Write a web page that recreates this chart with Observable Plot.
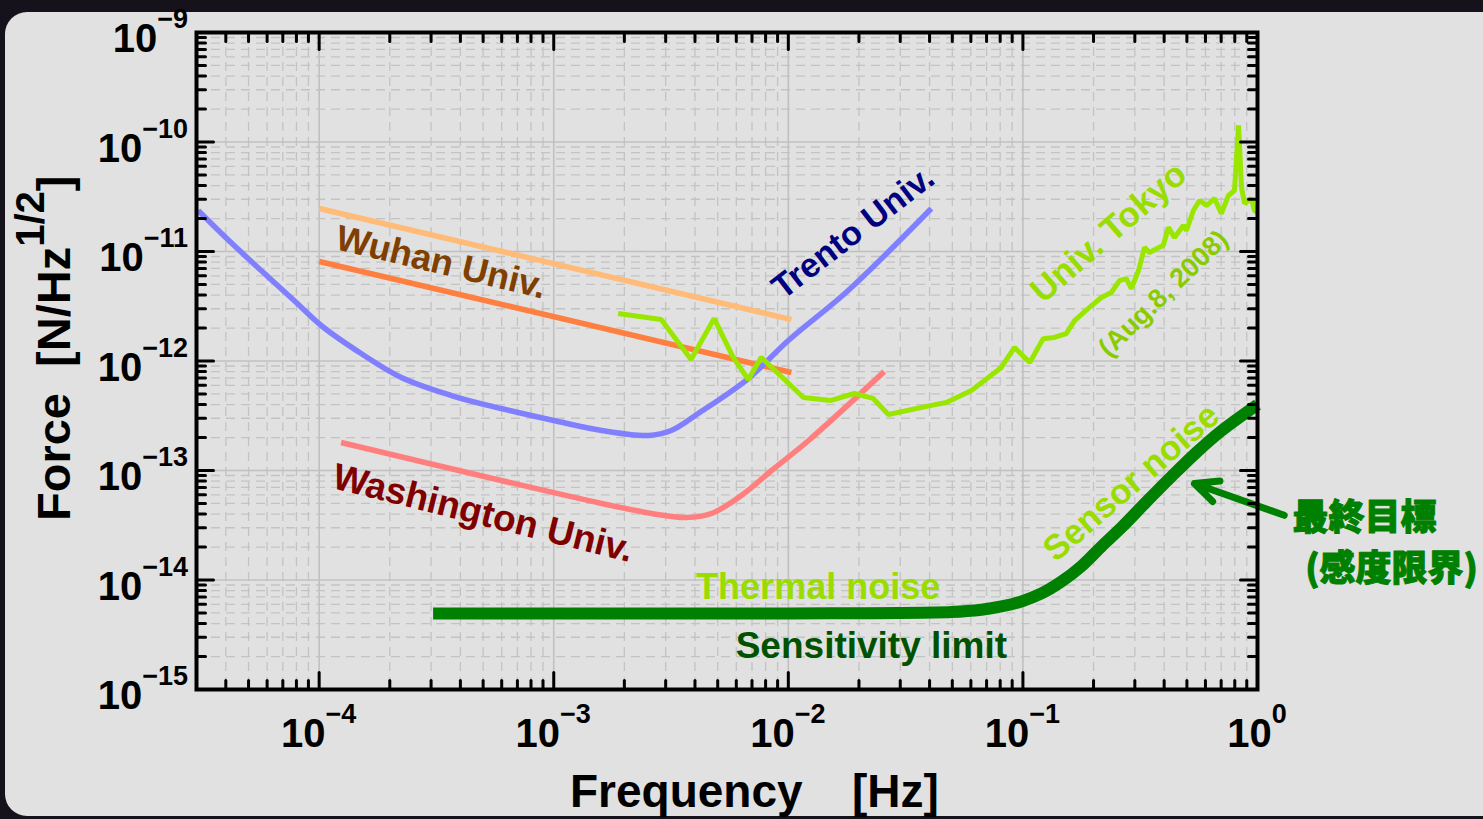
<!DOCTYPE html>
<html><head><meta charset="utf-8">
<script src="https://cdn.jsdelivr.net/npm/d3@7"></script>
<script src="https://cdn.jsdelivr.net/npm/@observablehq/plot@0.6"></script>
<style>
html,body{margin:0;padding:0;background:#15121b;width:1483px;height:819px;overflow:hidden;}
#panel{position:absolute;left:5px;top:12px;width:1500px;height:804px;border-radius:22px;background:#e1e1e1;}
#chart{position:absolute;left:0;top:0;}
</style></head><body><div id="panel"></div><div id="chart"></div>
<script>
// ---- data (frequency [Hz], force noise [N/Hz^1/2]) ----
const trentoF = [3.05e-5, 4.22e-5, 5.66e-5, 7.82e-5, 1.02e-4, 1.51e-4, 2.24e-4, 3.66e-4, 5.97e-4, 1.0e-3, 1.6e-3, 2.53e-3, 3.17e-3, 4.13e-3, 6.75e-3, 1.0e-2, 1.8e-2, 4.07e-2];
const trentoV = [2.37e-11, 1.2e-11, 6.7e-12, 3.57e-12, 2.11e-12, 1.17e-12, 7.07e-13, 4.84e-13, 3.68e-13, 2.86e-13, 2.32e-13, 2.09e-13, 2.32e-13, 3.32e-13, 6.92e-13, 1.54e-12, 4.41e-12, 2.47e-11];

const wuhanUpperF = [1.0e-4, 1.03e-2];
const wuhanUpperV = [2.47e-11, 2.39e-12];
const wuhanLowerF = [1.0e-4, 1.03e-2];
const wuhanLowerV = [8.1e-12, 7.85e-13];

const washingtonF = [1.24e-4, 5.97e-4, 1.6e-3, 2.61e-3, 3.67e-3, 4.7e-3, 6.31e-3, 8.48e-3, 1.22e-2, 2.56e-2];
const washingtonV = [1.8e-13, 8.1e-14, 5.0e-14, 4.05e-14, 3.72e-14, 4.05e-14, 5.91e-14, 1.0e-13, 1.88e-13, 8.0e-13];

const tokyoF = [1.88e-3, 2.87e-3, 3.85e-3, 4.83e-3, 5.82e-3, 6.75e-3, 7.67e-3, 9.33e-3, 1.16e-2, 1.52e-2, 1.91e-2, 2.30e-2, 2.67e-2, 4.07e-2, 4.72e-2, 6.03e-2, 8.09e-2, 9.21e-2, 0.107, 0.122, 0.136, 0.153, 0.166, 0.190, 0.216, 0.238, 0.258, 0.276, 0.290, 0.311, 0.330, 0.346, 0.397, 0.417, 0.443, 0.483, 0.498, 0.533, 0.566, 0.607, 0.656, 0.701, 0.752, 0.798, 0.830, 0.855, 0.881, 0.942, 0.970, 1.0];
const tokyoV = [2.72e-12, 2.39e-12, 1.03e-12, 2.44e-12, 1.08e-12, 6.78e-13, 1.08e-12, 7.22e-13, 4.64e-13, 4.36e-13, 5.05e-13, 4.55e-13, 3.25e-13, 3.93e-13, 4.18e-13, 5.38e-13, 8.73e-13, 1.33e-12, 9.68e-13, 1.60e-12, 1.64e-12, 1.78e-12, 2.34e-12, 3.02e-12, 3.80e-12, 4.22e-12, 5.43e-12, 5.66e-12, 4.59e-12, 6.70e-12, 1.09e-11, 9.8e-12, 1.14e-11, 1.66e-11, 1.34e-11, 1.73e-11, 1.56e-11, 2.37e-11, 2.92e-11, 2.63e-11, 3.05e-11, 2.22e-11, 3.25e-11, 3.61e-11, 1.42e-10, 3.84e-11, 2.74e-11, 3.05e-11, 2.37e-11, 2.27e-11];

const limitF = [3.06e-4, 1e-3, 1e-2, 4.95e-2, 6.65e-2, 8.09e-2, 9.86e-2, 0.12, 0.146, 0.177, 0.216, 0.263, 0.337, 0.43, 0.549, 0.701, 1.0];
const limitV = [4.95e-15, 4.95e-15, 4.95e-15, 5.1e-15, 5.35e-15, 5.73e-15, 6.37e-15, 7.53e-15, 9.68e-15, 1.33e-14, 2.02e-14, 3.01e-14, 5.21e-14, 8.81e-14, 1.46e-13, 2.3e-13, 4.0e-13];

// arrow pointing at the sensor-noise curve (tail -> head)
const arrowF = [1.30, 0.538];
const arrowV = [3.9e-14, 7.6e-14];

// ticks
const xMajor = [1e-4, 1e-3, 1e-2, 1e-1, 1];
const xTickExp = ["\u22124", "\u22123", "\u22122", "\u22121", "0"];
const yMajor = [1e-15, 1e-14, 1e-13, 1e-12, 1e-11, 1e-10, 1e-9];
const yTickExp = ["\u221215", "\u221214", "\u221213", "\u221212", "\u221211", "\u221210", "\u22129"];

// labels
const txtTrento = "Trento Univ.";
const txtWuhan = "Wuhan Univ.";
const txtWashington = "Washington Univ.";
const txtTokyo = "Univ. Tokyo";
const txtTokyoDate = "(Aug.8, 2008)";
const txtSensor = "Sensor noise";
const txtThermal = "Thermal noise";
const txtLimit = "Sensitivity limit";
const txtGoal1 = "最終目標";
const txtGoal2 = "(感度限界)";
const xTitle1 = "Frequency", xTitle2 = "[Hz]";
const yTitleMain = "Force  [N/Hz", yTitleSup = "1/2", yTitleEnd = "]";

// ---- build ----
const X0 = 3e-5, X1 = 1, Y0 = 1e-15, Y1 = 1e-9;
const zip = (F, V) => F.map((f, i) => ({f, v: V[i]}));
function minorTicks(lo, hi) {
  const out = [];
  for (let e = Math.floor(Math.log10(lo)); e < Math.ceil(Math.log10(hi)); e++)
    for (let k = 2; k <= 9; k++) { const t = k * Math.pow(10, e); if (t >= lo * 0.999 && t <= hi * 1.001) out.push(t); }
  return out;
}
const xMinor = minorTicks(X0, X1);
const yMinor = minorTicks(Y0, Y1);
const seg = {draw(ctx, l) { ctx.moveTo(0, 0); ctx.lineTo(0, -l); }};
const FONT = "Liberation Sans, Arial, Helvetica, sans-serif";
const tickMark = (data, isX, pos, len, rot) => Plot.vector(data, {
  x: isX ? (d => d) : (() => pos), y: isX ? (() => pos) : (d => d),
  length: len, rotate: rot, anchor: "start", shape: seg, stroke: "black", strokeWidth: 3
});

const plot = Plot.plot({
  width: 1483, height: 819,
  marginLeft: 196, marginRight: 226, marginTop: 32, marginBottom: 130,
  style: {background: "transparent", overflow: "visible"},
  x: {type: "log", domain: [X0, X1], axis: null},
  y: {type: "log", domain: [Y0, Y1], axis: null},
  marks: [
    Plot.ruleX(xMinor, {stroke: "#c3c3c3", strokeWidth: 1.3, strokeDasharray: "9,6"}),
    Plot.ruleY(yMinor, {stroke: "#c3c3c3", strokeWidth: 1.3, strokeDasharray: "9,6"}),
    Plot.ruleX(xMajor, {stroke: "#c0c0c0", strokeWidth: 1.6}),
    Plot.ruleY(yMajor, {stroke: "#c0c0c0", strokeWidth: 1.6}),
    Plot.line(zip(wuhanUpperF, wuhanUpperV), {x: "f", y: "v", stroke: "#ffbb77", strokeWidth: 5.5, strokeLinecap: "butt"}),
    Plot.line(zip(wuhanLowerF, wuhanLowerV), {x: "f", y: "v", stroke: "#ff7f40", strokeWidth: 5.5, strokeLinecap: "butt"}),
    Plot.line(zip(washingtonF, washingtonV), {x: "f", y: "v", stroke: "#ff7f7f", strokeWidth: 5.5, curve: "catmull-rom", strokeLinecap: "butt"}),
    Plot.line(zip(trentoF, trentoV), {x: "f", y: "v", stroke: "#8080ff", strokeWidth: 5.5, curve: "catmull-rom", strokeLinecap: "butt"}),
    Plot.line(zip(tokyoF, tokyoV), {x: "f", y: "v", stroke: "#99e600", strokeWidth: 5, strokeLinejoin: "miter", strokeLinecap: "butt"}),
    Plot.line(zip(limitF, limitV), {x: "f", y: "v", stroke: "#008000", strokeWidth: 12, curve: "catmull-rom", strokeLinecap: "butt"}),
    Plot.arrow([0], {x1: () => arrowF[0], y1: () => arrowV[0], x2: () => arrowF[1], y2: () => arrowV[1], stroke: "#008000", strokeWidth: 7, headLength: 5.5, headAngle: 50}),
    Plot.frame({stroke: "black", strokeWidth: 4}),
    tickMark(xMajor, true, Y0, 17, 0), tickMark(xMinor, true, Y0, 9, 0),
    tickMark(xMajor, true, Y1, 17, 180), tickMark(xMinor, true, Y1, 9, 180),
    tickMark(yMajor, false, X0, 17, 90), tickMark(yMinor, false, X0, 9, 90),
    tickMark(yMajor, false, X1, 17, -90), tickMark(yMinor, false, X1, 9, -90),
    Plot.text([txtTrento], {x: () => 1.89e-2, y: () => 1.49e-11, text: d => d, rotate: -37.5, fontSize: 34, fontWeight: "bold", fontFamily: FONT, fill: "#000080"}),
    Plot.text([txtWuhan], {x: () => 3.31e-4, y: () => 7.94e-12, text: d => d, rotate: 13.5, fontSize: 36, fontWeight: "bold", fontFamily: FONT, fill: "#7f3f00"}),
    Plot.text([txtWashington], {x: () => 5.0e-4, y: () => 4.05e-14, text: d => d, rotate: 14, fontSize: 37, fontWeight: "bold", fontFamily: FONT, fill: "#800000"}),
    Plot.text([txtTokyo], {x: () => 0.232, y: () => 1.49e-11, text: d => d, rotate: -41, fontSize: 35, fontWeight: "bold", fontFamily: FONT, fill: "#99dd00"}),
    Plot.text([txtTokyoDate], {x: () => 0.397, y: () => 4.13e-12, text: d => d, rotate: -44, fontSize: 27, fontWeight: "bold", fontFamily: FONT, fill: "#88cc00"}),
    Plot.text([txtSensor], {x: () => 0.290, y: () => 7.76e-14, text: d => d, rotate: -41, fontSize: 35, fontWeight: "bold", fontFamily: FONT, fill: "#99dd00"}),
    Plot.text([txtThermal], {x: () => 1.34e-2, y: () => 8.55e-15, text: d => d, fontSize: 36, fontWeight: "bold", fontFamily: FONT, fill: "#99dd00"}),
    Plot.text([txtLimit], {x: () => 2.26e-2, y: () => 2.47e-15, text: d => d, fontSize: 37, fontWeight: "bold", fontFamily: FONT, fill: "#005200"}),
    Plot.text([txtGoal1], {x: () => 2.86, y: () => 3.65e-14, text: d => d, fontSize: 36, fontWeight: 900, fontFamily: "Noto Sans CJK JP", fill: "#008000", stroke: "#008000", strokeWidth: 1}),
    Plot.text([txtGoal2], {x: () => 3.73, y: () => 1.25e-14, text: d => d, fontSize: 36, fontWeight: 900, fontFamily: "Noto Sans CJK JP", fill: "#008000", stroke: "#008000", strokeWidth: 1})
  ]
});
document.getElementById("chart").appendChild(plot);

// tick labels with superscript exponents, placed through the plot's own scales
const sx = plot.scale("x"), sy = plot.scale("y");
const svg = d3.select(plot);
const g = svg.append("g").attr("font-family", FONT).attr("font-weight", "bold").attr("fill", "black");
xMajor.forEach((v, i) => {
  const t = g.append("text").attr("x", sx.apply(v)).attr("y", sy.apply(Y0) + 58).attr("text-anchor", "middle").attr("font-size", 40);
  t.append("tspan").text("10");
  t.append("tspan").attr("dy", -24).attr("font-size", 27).text(xTickExp[i]);
});
yMajor.forEach((v, i) => {
  const t = g.append("text").attr("x", sx.apply(X0) - 8).attr("y", sy.apply(v) + 20).attr("text-anchor", "end").attr("font-size", 40);
  t.append("tspan").text("10");
  t.append("tspan").attr("dy", -24).attr("font-size", 27).text(yTickExp[i]);
});
// axis titles
g.append("text").attr("x", 570).attr("y", 807).attr("text-anchor", "start").attr("font-size", 46).text(xTitle1);
g.append("text").attr("x", 852).attr("y", 807).attr("text-anchor", "start").attr("font-size", 46).text(xTitle2);
const yt = g.append("text").attr("transform", "translate(70,521) rotate(-90)").attr("text-anchor", "start").attr("font-size", 47).style("white-space", "pre");
yt.append("tspan").text(yTitleMain);
yt.append("tspan").attr("dy", -26).attr("font-size", 40).text(yTitleSup);
yt.append("tspan").attr("dy", 26).attr("font-size", 47).text(yTitleEnd);
</script></body></html>
